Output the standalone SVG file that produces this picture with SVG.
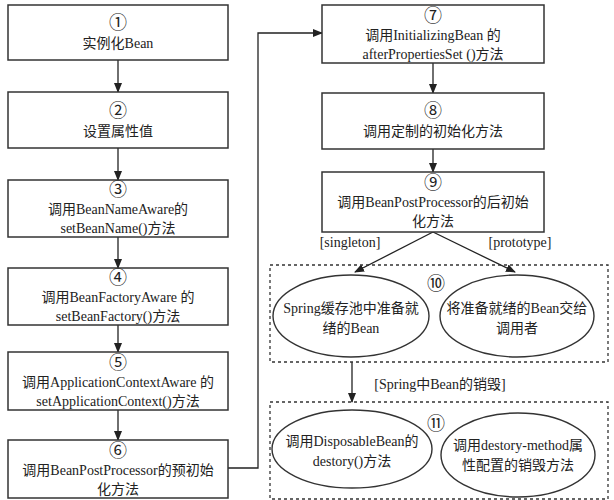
<svg xmlns="http://www.w3.org/2000/svg" width="614" height="500" viewBox="0 0 614 500">
<defs>
<marker id="ah" markerWidth="10" markerHeight="8" refX="9" refY="4" orient="auto" markerUnits="userSpaceOnUse"><path d="M0,0 L10,4 L0,8 z" fill="#222"/></marker>
<style>
.box{fill:#fff;stroke:#333;stroke-width:1.5}
.dash{fill:none;stroke:#333;stroke-width:1.3;stroke-dasharray:3,3}
.ell{fill:#fff;stroke:#333;stroke-width:1.4}
text{font-family:"Liberation Serif","Noto Sans CJK SC",serif;font-size:14px;fill:#222;text-anchor:middle}
.n{font-size:18px}
.c line,.c path{stroke:#222;stroke-width:1.3;fill:none;marker-end:url(#ah)}
</style>
</defs>
<rect width="614" height="500" fill="#fff"/>
<g class="c" id="connectors">
<line x1="118" y1="60" x2="118" y2="92"/>
<line x1="118" y1="148" x2="118" y2="180"/>
<line x1="118" y1="237" x2="118" y2="268"/>
<line x1="118" y1="325" x2="118" y2="352"/>
<line x1="118" y1="410" x2="118" y2="440"/>
<path d="M228,468 H258 V33 H322"/>
<line x1="433" y1="63" x2="433" y2="93"/>
<line x1="433" y1="149" x2="433" y2="172"/>
<line x1="433" y1="232" x2="355" y2="272"/>
<line x1="433" y1="232" x2="515" y2="272"/>
<line x1="352" y1="362" x2="352" y2="402"/>
</g>
<g id="n1"><rect class="box" x="8" y="5" width="220" height="55"/><text class="n" x="118" y="29">①</text><text x="118" y="48">实例化Bean</text></g>
<g id="n2"><rect class="box" x="8" y="92" width="220" height="56"/><text class="n" x="118" y="117">②</text><text x="118" y="136">设置属性值</text></g>
<g id="n3"><rect class="box" x="8" y="180" width="220" height="57"/><text class="n" x="118" y="196">③</text><text x="118" y="214">调用BeanNameAware的</text><text x="118" y="233">setBeanName()方法</text></g>
<g id="n4"><rect class="box" x="8" y="268" width="220" height="57"/><text class="n" x="118" y="284">④</text><text x="118" y="302">调用BeanFactoryAware 的</text><text x="118" y="321">setBeanFactory()方法</text></g>
<g id="n5"><rect class="box" x="8" y="352" width="220" height="58"/><text class="n" x="118" y="369">⑤</text><text x="118" y="387">调用ApplicationContextAware 的</text><text x="118" y="406">setApplicationContext()方法</text></g>
<g id="n6"><rect class="box" x="8" y="440" width="220" height="58"/><text class="n" x="118" y="457">⑥</text><text x="118" y="475">调用BeanPostProcessor的预初始</text><text x="118" y="494">化方法</text></g>
<g id="n7"><rect class="box" x="322" y="5" width="222" height="58"/><text class="n" x="433" y="22">⑦</text><text x="433" y="40">调用InitializingBean 的</text><text x="433" y="59">afterPropertiesSet ()方法</text></g>
<g id="n8"><rect class="box" x="322" y="93" width="222" height="56"/><text class="n" x="433" y="117">⑧</text><text x="433" y="136">调用定制的初始化方法</text></g>
<g id="n9"><rect class="box" x="322" y="172" width="222" height="60"/><text class="n" x="433" y="189">⑨</text><text x="433" y="207">调用BeanPostProcessor的后初始</text><text x="433" y="226">化方法</text></g>
<text x="350" y="247">[singleton]</text><text x="520" y="247">[prototype]</text>
<g id="g10"><rect class="dash" x="270" y="265" width="338" height="97"/><text class="n" x="436" y="290">⑩</text>
<ellipse class="ell" cx="351" cy="316" rx="78" ry="41"/><text x="351" y="313">Spring缓存池中准备就</text><text x="351" y="333">绪的Bean</text>
<ellipse class="ell" cx="517" cy="316" rx="77" ry="41"/><text x="517" y="313">将准备就绪的Bean交给</text><text x="517" y="333">调用者</text></g>
<text x="440" y="389">[Spring中Bean的销毁]</text>
<g id="g11"><rect class="dash" x="270" y="402" width="338" height="97"/><text class="n" x="436" y="430">⑪</text>
<ellipse class="ell" cx="352" cy="449" rx="80" ry="39"/><text x="352" y="446">调用DisposableBean的</text><text x="352" y="466">destory()方法</text>
<ellipse class="ell" cx="518" cy="455" rx="77" ry="42"/><text x="518" y="450">调用destory-method属</text><text x="518" y="470">性配置的销毁方法</text></g>
</svg>
